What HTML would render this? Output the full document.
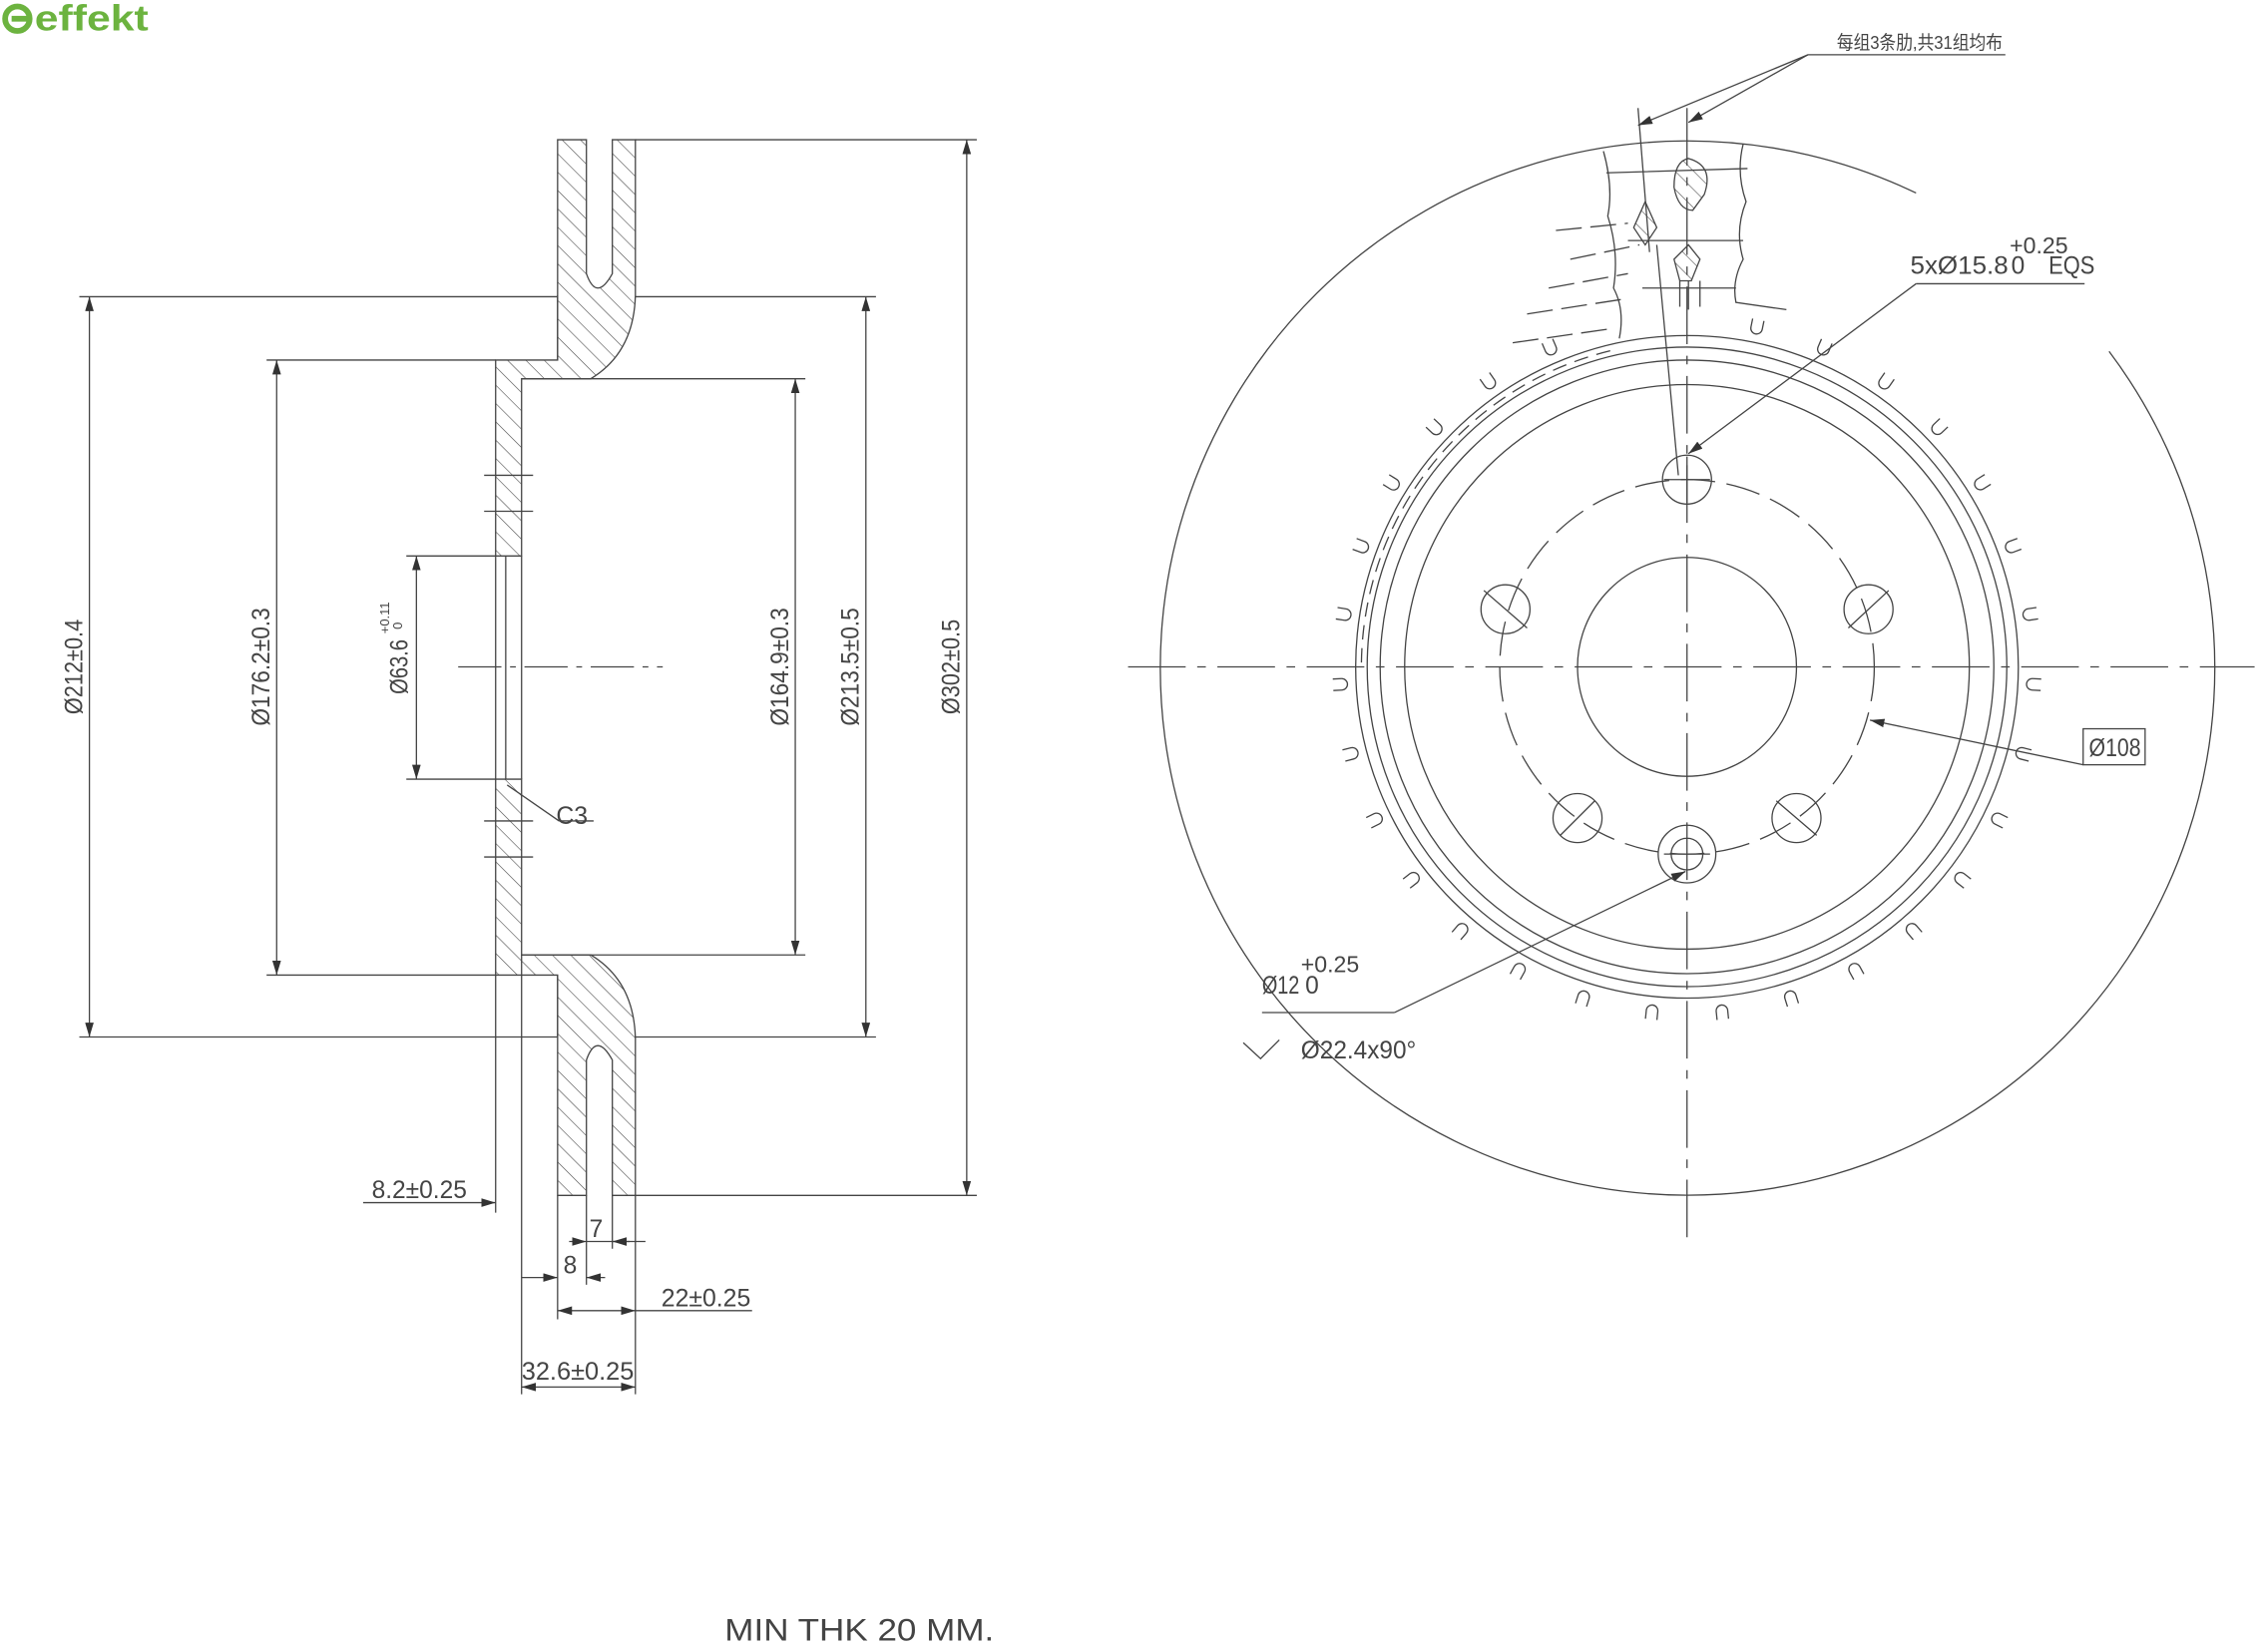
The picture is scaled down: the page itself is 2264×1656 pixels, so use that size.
<!DOCTYPE html>
<html><head><meta charset="utf-8"><style>
html,body{margin:0;padding:0;background:#fff;}
svg{display:block}
text{font-family:"Liberation Sans Narrow","Liberation Sans","Noto Sans CJK SC",sans-serif;fill:#444;}
</style></head><body>
<svg width="2264" height="1656" viewBox="0 0 1568 1147" xmlns="http://www.w3.org/2000/svg">
<defs>
<pattern id="h" patternUnits="userSpaceOnUse" width="9" height="9" patternTransform="rotate(-45)">
<line x1="0" y1="0" x2="0" y2="9" stroke="#444" stroke-width="0.8"/>
</pattern>
<marker id="a" viewBox="0 0 10 6" refX="10" refY="3" markerWidth="10" markerHeight="6" orient="auto-start-reverse" markerUnits="userSpaceOnUse">
<path d="M0,0 L10,3 L0,6 Z" fill="#333"/></marker>
<path id="n" d="M-4,-6 L-4,0 A4,4 0 0 0 4,0 L4,-6" fill="none" stroke="#444" stroke-width="0.9"/>
</defs>

<!-- logo -->
<circle cx="12" cy="13" r="8.5" fill="none" stroke="#6cb33f" stroke-width="4"/>
<rect x="8" y="11" width="13" height="4" fill="#6cb33f"/>
<text x="24" y="21" style="font-family:'Liberation Sans',sans-serif;font-weight:bold;font-size:25px;fill:#6cb33f" textLength="79" lengthAdjust="spacingAndGlyphs">effekt</text>

<g stroke="#444" stroke-width="0.9" fill="none">
<!-- LEFT VIEW profile -->
<path d="M387,97 L407,97 L407,190 Q414,210 425,190 L425,97 L441,97 L441,205 Q440,245 410,263 L362,263 L362,386 L344,386 L344,250 L387,250 Z" fill="url(#h)"/>
<path d="M387,830 L407,830 L407,736 Q414,716 425,736 L425,830 L441,830 L441,721 Q440,681 410,663 L362,663 L362,541 L344,541 L344,677 L387,677 Z" fill="url(#h)"/>
<line x1="351" y1="386" x2="351" y2="541"/><line x1="344" y1="386" x2="344" y2="541"/><line x1="362" y1="386" x2="362" y2="541"/>
<line x1="387" y1="205" x2="387" y2="250"/><line x1="387" y1="677" x2="387" y2="720"/>
<line x1="336" y1="330" x2="370" y2="330"/><line x1="336" y1="355" x2="370" y2="355"/>
<line x1="336" y1="570" x2="370" y2="570"/><line x1="336" y1="595" x2="370" y2="595"/>
<line x1="318" y1="463" x2="460" y2="463" stroke-dasharray="30,6,4,6"/>
<!-- extension lines -->
<line x1="55" y1="206" x2="387" y2="206"/><line x1="55" y1="720" x2="387" y2="720"/>
<line x1="185" y1="250" x2="344" y2="250"/><line x1="185" y1="677" x2="344" y2="677"/>
<line x1="282" y1="386" x2="344" y2="386"/><line x1="282" y1="541" x2="344" y2="541"/>
<line x1="362" y1="263" x2="559" y2="263"/><line x1="362" y1="663" x2="559" y2="663"/>
<line x1="441" y1="206" x2="608" y2="206"/><line x1="441" y1="720" x2="608" y2="720"/>
<line x1="441" y1="97" x2="678" y2="97"/><line x1="441" y1="830" x2="678" y2="830"/>
<line x1="344" y1="677" x2="344" y2="842"/><line x1="362" y1="663" x2="362" y2="968"/>
<line x1="387" y1="830" x2="387" y2="916"/><line x1="407" y1="830" x2="407" y2="892"/>
<line x1="425" y1="830" x2="425" y2="867"/><line x1="441" y1="830" x2="441" y2="968"/>
<!-- dims -->
<line x1="62" y1="206" x2="62" y2="720" marker-start="url(#a)" marker-end="url(#a)"/>
<line x1="192" y1="250" x2="192" y2="677" marker-start="url(#a)" marker-end="url(#a)"/>
<line x1="289" y1="386" x2="289" y2="541" marker-start="url(#a)" marker-end="url(#a)"/>
<line x1="552" y1="263" x2="552" y2="663" marker-start="url(#a)" marker-end="url(#a)"/>
<line x1="601" y1="206" x2="601" y2="720" marker-start="url(#a)" marker-end="url(#a)"/>
<line x1="671" y1="97" x2="671" y2="830" marker-start="url(#a)" marker-end="url(#a)"/>
<line x1="252" y1="835" x2="344" y2="835" marker-end="url(#a)"/>
<line x1="407" y1="862" x2="448" y2="862"/><line x1="395" y1="862" x2="407" y2="862" marker-end="url(#a)"/><line x1="437" y1="862" x2="425" y2="862" marker-end="url(#a)"/>
<line x1="362" y1="887" x2="387" y2="887" marker-end="url(#a)"/><line x1="420" y1="887" x2="407" y2="887" marker-end="url(#a)"/>
<line x1="387" y1="910" x2="441" y2="910" marker-start="url(#a)" marker-end="url(#a)"/><line x1="441" y1="910" x2="522" y2="910"/>
<line x1="362" y1="963" x2="441" y2="963" marker-start="url(#a)" marker-end="url(#a)"/>
<line x1="352" y1="545" x2="388" y2="570"/><line x1="388" y1="570" x2="412" y2="570"/>

<!-- RIGHT VIEW -->
<path d="M1464,244 A366,366 0 1 1 1330,134" />
<line x1="783" y1="463" x2="1565" y2="463" stroke-dasharray="40,8,6,8"/>
<line x1="1171" y1="75" x2="1171" y2="865" stroke-dasharray="40,8,6,8"/>
<circle cx="1171" cy="463" r="230"/><circle cx="1171" cy="463" r="222"/>
<circle cx="1171" cy="463" r="213"/><circle cx="1171" cy="463" r="196"/>
<circle cx="1171" cy="463" r="76"/>
<circle cx="1171" cy="463" r="130" stroke-dasharray="24,8"/>
<path d="M945,460 A226,226 0 0 1 1120,243" stroke-dasharray="10,6"/>
<g>
<circle cx="1171" cy="333" r="17"/><circle cx="1045" cy="423" r="17"/><circle cx="1297" cy="423" r="17"/>
<circle cx="1095" cy="568" r="17"/><circle cx="1247" cy="568" r="17"/>
<circle cx="1171" cy="593" r="20"/><circle cx="1171" cy="593" r="11"/>
<path d="M1155,333 h32 M1171,317 v32 M1030,410 l30,26 M1283,436 l28,-26 M1083,580 l24,-24 M1233,556 l28,24 M1155,593 h32"/>
</g>
<g transform="translate(1171,463)">
<use href="#n" transform="rotate(11.61) translate(0,-240)"/><use href="#n" transform="rotate(23.23) translate(0,-240)"/>
<use href="#n" transform="rotate(34.84) translate(0,-240)"/><use href="#n" transform="rotate(46.45) translate(0,-240)"/>
<use href="#n" transform="rotate(58.06) translate(0,-240)"/><use href="#n" transform="rotate(69.68) translate(0,-240)"/>
<use href="#n" transform="rotate(81.29) translate(0,-240)"/><use href="#n" transform="rotate(92.9) translate(0,-240)"/>
<use href="#n" transform="rotate(104.5) translate(0,-240)"/><use href="#n" transform="rotate(116.1) translate(0,-240)"/>
<use href="#n" transform="rotate(127.7) translate(0,-240)"/><use href="#n" transform="rotate(139.4) translate(0,-240)"/>
<use href="#n" transform="rotate(151) translate(0,-240)"/><use href="#n" transform="rotate(162.6) translate(0,-240)"/>
<use href="#n" transform="rotate(174.2) translate(0,-240)"/><use href="#n" transform="rotate(185.8) translate(0,-240)"/>
<use href="#n" transform="rotate(197.4) translate(0,-240)"/><use href="#n" transform="rotate(209) translate(0,-240)"/>
<use href="#n" transform="rotate(220.6) translate(0,-240)"/><use href="#n" transform="rotate(232.3) translate(0,-240)"/>
<use href="#n" transform="rotate(243.9) translate(0,-240)"/><use href="#n" transform="rotate(255.5) translate(0,-240)"/>
<use href="#n" transform="rotate(267.1) translate(0,-240)"/><use href="#n" transform="rotate(278.7) translate(0,-240)"/>
<use href="#n" transform="rotate(290.3) translate(0,-240)"/><use href="#n" transform="rotate(301.9) translate(0,-240)"/>
<use href="#n" transform="rotate(313.5) translate(0,-240)"/><use href="#n" transform="rotate(325.2) translate(0,-240)"/>
<use href="#n" transform="rotate(336.8) translate(0,-240)"/>
</g>
<!-- top cut section -->
<path d="M1113,105 Q1120,130 1116,150 Q1124,175 1120,200 Q1128,215 1124,235"/>
<path d="M1210,100 Q1205,120 1212,140 Q1204,160 1210,180 Q1202,195 1205,210 L1240,215"/>
<path d="M1090,180 L1138,170 M1075,200 L1130,190 M1060,218 L1125,208 M1050,238 L1120,228 M1080,160 L1130,155" stroke-dasharray="18,6"/>
<path d="M1115,120 L1213,117 M1130,167 L1210,167 M1140,200 L1205,200"/>
<path d="M1172,110 Q1190,115 1183,135 L1175,146 Q1165,146 1162,130 Q1162,112 1172,110 Z" fill="url(#h)"/>
<path d="M1142,140 L1150,158 L1142,170 L1134,158 Z" fill="url(#h)"/>
<path d="M1172,170 L1180,180 L1174,195 L1166,195 L1162,180 Z" fill="url(#h)"/>
<path d="M1172,195 v20 M1166,195 v18 M1180,195 v18"/>
<line x1="1137" y1="75" x2="1145" y2="175"/><line x1="1165" y1="330" x2="1150" y2="170"/>
<!-- leaders -->
<line x1="1255" y1="38" x2="1392" y2="38"/>
<line x1="1255" y1="38" x2="1137" y2="87" marker-end="url(#a)"/>
<line x1="1255" y1="38" x2="1172" y2="85" marker-end="url(#a)"/>
<line x1="1330" y1="197" x2="1447" y2="197"/>
<line x1="1330" y1="197" x2="1172" y2="315" marker-end="url(#a)"/>
<rect x="1446" y="506" width="43" height="25"/>
<line x1="1446" y1="531" x2="1298" y2="500" marker-end="url(#a)"/>
<line x1="876" y1="703" x2="968" y2="703"/>
<line x1="968" y1="703" x2="1170" y2="605" marker-end="url(#a)"/>
<path d="M863,724 L875,735 L888,722"/>
</g>

<g font-size="17">
<text transform="translate(57,463) rotate(-90)" text-anchor="middle" textLength="66" lengthAdjust="spacingAndGlyphs">Ø212±0.4</text>
<text transform="translate(187,463) rotate(-90)" text-anchor="middle" textLength="82" lengthAdjust="spacingAndGlyphs">Ø176.2±0.3</text>
<text transform="translate(283,463) rotate(-90)" text-anchor="middle" textLength="38" lengthAdjust="spacingAndGlyphs">Ø63.6</text>
<text transform="translate(270,440) rotate(-90)" font-size="9">+0.11</text>
<text transform="translate(279,437) rotate(-90)" font-size="9">0</text>
<text transform="translate(547,463) rotate(-90)" text-anchor="middle" textLength="82" lengthAdjust="spacingAndGlyphs">Ø164.9±0.3</text>
<text transform="translate(596,463) rotate(-90)" text-anchor="middle" textLength="82" lengthAdjust="spacingAndGlyphs">Ø213.5±0.5</text>
<text transform="translate(666,463) rotate(-90)" text-anchor="middle" textLength="66" lengthAdjust="spacingAndGlyphs">Ø302±0.5</text>
<text x="386" y="572" textLength="22" lengthAdjust="spacingAndGlyphs">C3</text>
<text x="258" y="832" textLength="66" lengthAdjust="spacingAndGlyphs">8.2±0.25</text>
<text x="409" y="859">7</text>
<text x="391" y="884">8</text>
<text x="459" y="907" textLength="62" lengthAdjust="spacingAndGlyphs">22±0.25</text>
<text x="362" y="958" textLength="78" lengthAdjust="spacingAndGlyphs">32.6±0.25</text>
<text x="503" y="1139" font-size="22" textLength="187" lengthAdjust="spacingAndGlyphs">MIN THK 20 MM.</text>
<text x="1275" y="34" font-size="13" textLength="115" lengthAdjust="spacingAndGlyphs">每组3条肋,共31组均布</text>
<text x="1326" y="190" textLength="68" lengthAdjust="spacingAndGlyphs">5xØ15.8</text>
<text x="1395" y="176" font-size="16">+0.25</text>
<text x="1396" y="190">0</text>
<text x="1422" y="190" textLength="32" lengthAdjust="spacingAndGlyphs">EQS</text>
<text x="1450" y="525" textLength="36" lengthAdjust="spacingAndGlyphs">Ø108</text>
<text x="876" y="690" textLength="26" lengthAdjust="spacingAndGlyphs">Ø12</text>
<text x="903" y="675" font-size="16">+0.25</text>
<text x="906" y="690">0</text>
<text x="903" y="735" textLength="80" lengthAdjust="spacingAndGlyphs">Ø22.4x90°</text>
</g>
</svg>
</body></html>
